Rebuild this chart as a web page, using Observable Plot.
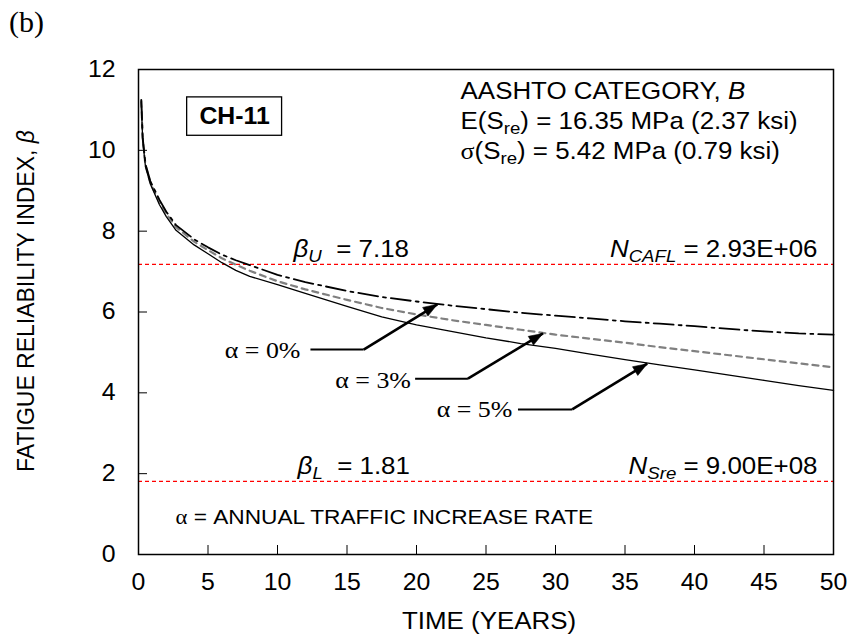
<!DOCTYPE html>
<html><head><meta charset="utf-8">
<script src="https://cdn.jsdelivr.net/npm/d3@7"></script>
<script src="https://cdn.jsdelivr.net/npm/@observablehq/plot@0.6"></script>
<style>
body{margin:0;background:#fff;}
#wrap{position:relative;width:852px;height:640px;overflow:hidden;}
#tag{position:absolute;left:9px;top:7px;font-family:"Liberation Serif","Times New Roman",serif;font-size:30px;line-height:1;}
</style></head><body><div id="wrap"><div id="tag">(b)</div></div>
<script>
// ---- data ----
const years  = [0.2,0.3,0.5,0.85,1.5,2,2.7,4,5,6,7,8,10,12,15,17.5,20,22.5,25,27.5,30,32.5,35,37.5,40,42.5,45,47.5,50];
const alpha0 = [11.25,10.32,9.66,9.24,8.78,8.48,8.15,7.8,7.6,7.42,7.28,7.16,6.92,6.74,6.52,6.37,6.26,6.16,6.07,5.98,5.91,5.84,5.77,5.71,5.65,5.58,5.52,5.47,5.44];
const alpha3 = [11.22,10.3,9.63,9.2,8.72,8.43,8.1,7.74,7.53,7.33,7.17,7.02,6.76,6.56,6.3,6.1,5.94,5.8,5.68,5.56,5.44,5.34,5.24,5.13,5.03,4.93,4.83,4.73,4.63];
const alpha5 = [11.2,10.25,9.6,9.17,8.66,8.36,8.02,7.66,7.44,7.22,7.03,6.88,6.68,6.46,6.14,5.88,5.68,5.52,5.36,5.22,5.1,4.96,4.82,4.69,4.57,4.44,4.31,4.18,4.06];
const xTicks = [0,5,10,15,20,25,30,35,40,45,50];
const yTicks = [0,2,4,6,8,10,12];
const limits = [7.18, 1.81];

// series labels with leader lines: label end, leader start, knee, arrow tip
const seriesLabels = ["α = 0%","α = 3%","α = 5%"];
const labelX = [11.65, 19.6, 26.9];
const labelY = [4.85, 4.13, 3.39];
const leaderX1 = [12.37, 19.9, 27.3];
const kneeX = [16.2, 23.7, 31.2];
const leaderY = [5.07, 4.35, 3.59];
const tipX = [21.5, 29.1, 36.6];
const tipY = [6.19, 5.47, 4.72];

// text annotations
const infoLines = ["AASHTO CATEGORY, B","E(Sre) = 16.35 MPa (2.37 ksi)","σ(Sre) = 5.42 MPa (0.79 ksi)"];
const infoX = 23.17;
const infoY = [11.26, 10.52, 9.78];
const limitLabelsLeft = ["βU = 7.18","βL = 1.81"];
const limitLabelsLeftX = [11.15, 11.44];
const limitLabelsRight = ["NCAFL = 2.93E+06","NSre = 9.00E+08"];
const limitLabelsRightX = 48.85;
const limitLabelY = [7.36, 1.98];
const noteText = "α = ANNUAL TRAFFIC INCREASE RATE";
const noteX = 2.66, noteY = 0.75;
const boxText = "CH-11";
const boxX = [3.5, 10.33], boxY = [10.36, 11.31];

// ---- build tables ----
const W = 852, H = 640, mL = 138, mR = 19, mT = 69, mB = 86;
const plotW = W - mL - mR, plotH = H - mT - mB;
const pxX = plotW / 50, pxY = plotH / 12;
const rows = (vals) => years.map((t,i)=>({t, b: vals[i]}));
const lab = seriesLabels.map((s,i)=>({
  s, x:labelX[i], y:labelY[i], x1:leaderX1[i], xk:kneeX[i], ly:leaderY[i], tx:tipX[i], ty:tipY[i],
  ang: Math.atan2((tipX[i]-kneeX[i])*pxX, (tipY[i]-leaderY[i])*pxY) * 180 / Math.PI
}));
const arrowHead = {draw(ctx, size) { const s = Math.sqrt(size); ctx.moveTo(0, 0); ctx.lineTo(-0.36*s, s); ctx.lineTo(0.36*s, s); ctx.closePath(); }};

const sans = "'Liberation Sans', Arial, Helvetica, sans-serif";
const serif = "'Liberation Serif', 'Times New Roman', serif";

const chart = Plot.plot({
  width: W, height: H,
  marginLeft: mL, marginRight: mR, marginTop: mT, marginBottom: mB,
  style: {fontFamily: sans, fontSize: "23px", color: "black", background: "white", overflow: "visible"},
  x: {domain: [0, 50], ticks: xTicks, label: null},
  y: {domain: [0, 12], ticks: yTicks, label: null},
  marks: [
    Plot.axisX(xTicks, {tickSize: 0, tickPadding: 19, fontSize: 23, label: null}),
    Plot.axisY(yTicks, {tickSize: 0, tickPadding: 23, fontSize: 23, label: null}),
    Plot.tickX(xTicks, {x: d => d, insetTop: plotH - 9, stroke: "black", strokeWidth: 1}),
    Plot.tickY(yTicks, {y: d => d, insetRight: plotW - 9, stroke: "black", strokeWidth: 1}),
    Plot.ruleY(limits, {stroke: "#ff0000", strokeWidth: 1.2, strokeDasharray: "4,3"}),
    Plot.line(rows(alpha3), {x: "t", y: "b", stroke: "#808080", strokeWidth: 2.2, strokeDasharray: "6,5"}),
    Plot.line(rows(alpha0), {x: "t", y: "b", stroke: "black", strokeWidth: 1.8, strokeDasharray: "20,5,3,5"}),
    Plot.line(rows(alpha5), {x: "t", y: "b", stroke: "black", strokeWidth: 1.3}),
    Plot.frame({stroke: "black", strokeWidth: 1.5}),
    Plot.rect([{x1: boxX[0], x2: boxX[1], y1: boxY[0], y2: boxY[1]}], {x1: "x1", x2: "x2", y1: "y1", y2: "y2", fill: "white", stroke: "black", strokeWidth: 1.3}),
    Plot.text([boxText], {x: (boxX[0]+boxX[1])/2, y: (boxY[0]+boxY[1])/2, text: d => d, fontWeight: "bold", fontSize: 23, textAnchor: "middle", lineAnchor: "middle"}),
    Plot.text(infoLines, {x: infoX, y: (d,i) => infoY[i], text: d => d, textAnchor: "start", lineAnchor: "bottom", fontSize: 24}),
    Plot.text(limitLabelsLeft, {x: (d,i) => limitLabelsLeftX[i], y: (d,i) => limitLabelY[i], text: d => d, textAnchor: "start", lineAnchor: "bottom", fontSize: 24}),
    Plot.text(limitLabelsRight, {x: limitLabelsRightX, y: (d,i) => limitLabelY[i], text: d => d, textAnchor: "end", lineAnchor: "bottom", fontSize: 24}),
    Plot.text([noteText], {x: noteX, y: noteY, text: d => d, textAnchor: "start", lineAnchor: "bottom", fontSize: 21}),
    Plot.text(lab, {x: "x", y: "y", text: "s", textAnchor: "end", lineAnchor: "bottom", fontSize: 24, fontFamily: serif}),
    Plot.link(lab, {x1: "x1", y1: "ly", x2: "xk", y2: "ly", stroke: "black", strokeWidth: 2}),
    Plot.link(lab, {x1: "xk", y1: "ly", x2: "tx", y2: "ty", stroke: "black", strokeWidth: 2.6}),
    Plot.dot(lab, {x: "tx", y: "ty", symbol: arrowHead, r: 8, rotate: "ang", fill: "black", stroke: "black", strokeWidth: 0.5}),
    Plot.text(["TIME (YEARS)"], {frameAnchor: "bottom", dx: 3, dy: 74, text: d => d, lineAnchor: "bottom", fontSize: 24}),
    Plot.text(["FATIGUE RELIABILITY INDEX, β"], {frameAnchor: "left", dx: -105, dy: -11, rotate: -90, text: d => d, lineAnchor: "bottom", textAnchor: "middle", fontSize: 23})
  ]
});
document.getElementById("wrap").appendChild(chart);

// ---- rich text (italic / subscripts) ----
const rich = {
  "AASHTO CATEGORY, B": [["AASHTO CATEGORY, "],["B","i"]],
  "E(Sre) = 16.35 MPa (2.37 ksi)": [["E(S"],["re","sub"],[") = 16.35 MPa (2.37 ksi)"]],
  "σ(Sre) = 5.42 MPa (0.79 ksi)": [["σ","serif"],["(S"],["re","sub"],[") = 5.42 MPa (0.79 ksi)"]],
  "βU = 7.18": [["β","i"],["U","isub"],["  = 7.18"]],
  "βL = 1.81": [["β","i"],["L","isub"],["  = 1.81"]],
  "NCAFL = 2.93E+06": [["N","i"],["CAFL","isub"],[" = 2.93E+06"]],
  "NSre = 9.00E+08": [["N","i"],["Sre","isub"],[" = 9.00E+08"]],
  "α = ANNUAL TRAFFIC INCREASE RATE": [["α","serif"],[" = ANNUAL TRAFFIC INCREASE RATE"]],
  "FATIGUE RELIABILITY INDEX, β": [["FATIGUE RELIABILITY INDEX, "],["β","i"]]
};
const NS = "http://www.w3.org/2000/svg";
chart.querySelectorAll("text").forEach(t => {
  const segs = rich[t.textContent];
  if (!segs) return;
  const base = parseFloat(getComputedStyle(t).fontSize);
  while (t.firstChild) t.removeChild(t.firstChild);
  let shifted = 0;
  segs.forEach(([s, k]) => {
    const ts = document.createElementNS(NS, "tspan");
    ts.textContent = s;
    ts.style.whiteSpace = "pre";
    const isSub = k === "sub" || k === "isub";
    if (k === "i" || k === "isub") ts.setAttribute("font-style", "italic");
    if (k === "serif") ts.setAttribute("font-family", serif);
    if (isSub) ts.setAttribute("font-size", (base * 0.72) + "px");
    const want = isSub ? base * 0.2 : 0;
    if (want !== shifted) { ts.setAttribute("dy", (want - shifted) + "px"); shifted = want; }
    t.appendChild(ts);
  });
});

// ---- horizontal stretch of text, as in the reference ----
const S = 1.08;
chart.querySelectorAll("text").forEach(t => {
  const bb = t.getBBox();
  const tr = t.getAttribute("transform") || "";
  const anchor = getComputedStyle(t).textAnchor;
  if (/rotate/.test(tr)) {
    const ay = bb.y + bb.height / 2;
    t.setAttribute("transform", `${tr} translate(0,${ay}) scale(1,${S}) translate(0,${-ay})`);
  } else {
    const ax = anchor === "end" ? bb.x + bb.width : anchor === "middle" ? bb.x + bb.width / 2 : bb.x;
    t.setAttribute("transform", `${tr} translate(${ax},0) scale(${S},1) translate(${-ax},0)`);
  }
});
</script>
</body></html>
